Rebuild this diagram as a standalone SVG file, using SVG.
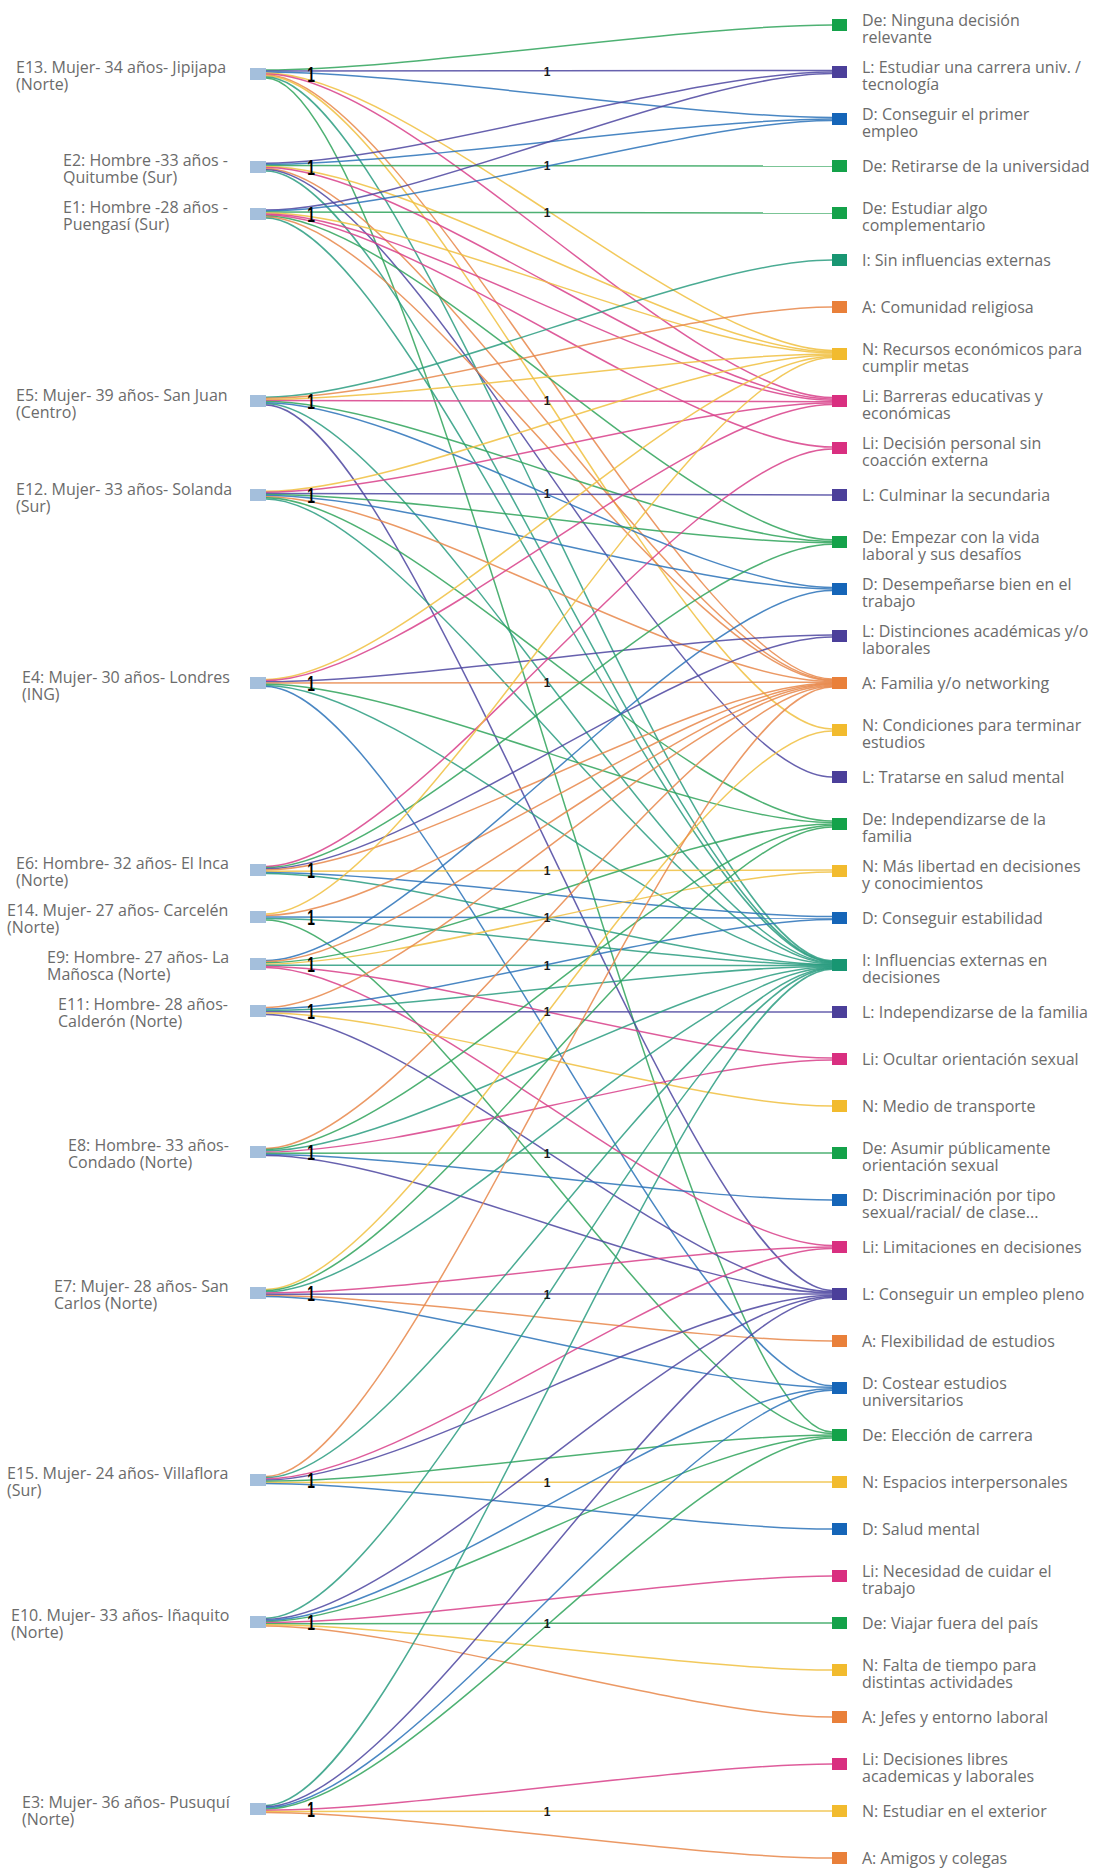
<svg xmlns="http://www.w3.org/2000/svg" width="1097" height="1868" viewBox="0 0 1097 1868">
<style>
text{font-family:"Open Sans","Noto Sans","Liberation Sans",sans-serif;font-size:16px;fill:#6b6b6b}
.src rect{fill:#a4bfdc}
.e{fill:none;stroke-width:1.5;stroke-opacity:.85}
.e.de{stroke:#2fa35a}.e.l{stroke:#4c45a0}.e.d{stroke:#2a72b8}.e.i{stroke:#2a9c80}.e.a{stroke:#e8874a}.e.n{stroke:#f0c040}.e.li{stroke:#d8408a}
.s.de{fill:#14a24a}.s.l{fill:#4b3f9a}.s.d{fill:#1565b8}.s.i{fill:#189672}.s.a{fill:#e9803a}.s.n{fill:#f2bb2e}.s.li{fill:#d92f80}
.k{font-family:"Liberation Sans",Arial,sans-serif;font-size:12px;font-weight:bold;fill:#1a1a1a;text-anchor:middle}
.m{font-family:"Liberation Sans",Arial,sans-serif;font-size:12px;font-weight:bold;fill:#000;text-anchor:middle}
</style>
<rect width="1097" height="1868" fill="#fff"/>
<g id="connectors">
<path class="e de" stroke-opacity=".45" d="M266 70C408 70 690 25 832 25"/>
<path class="e l" d="M266 71C408 71 690 70.5 832 70.5"/>
<path class="e d" d="M266 72C408 72 690 117.5 832 117.5"/>
<path class="e n" d="M266 73C408 73 690 350.4 832 350.4"/>
<path class="e li" d="M266 74C408 74 690 397.5 832 397.5"/>
<path class="e a" d="M266 75C408 75 690 679 832 679"/>
<path class="e n" d="M266 76C408 76 690 729 832 729"/>
<path class="e i" d="M266 77C408 77 690 960.8 832 960.8"/>
<path class="e de" d="M266 78C408 78 690 1432 832 1432"/>
<path class="e l" d="M266 163.2C408 163.2 690 72 832 72"/>
<path class="e d" d="M266 164.3C408 164.3 690 119 832 119"/>
<path class="e de" d="M266 165.4C408 165.4 690 166 832 166"/>
<path class="e n" d="M266 166.5C408 166.5 690 351.6 832 351.6"/>
<path class="e li" d="M266 167.6C408 167.6 690 398.9 832 398.9"/>
<path class="e a" d="M266 168.7C408 168.7 690 679.8 832 679.8"/>
<path class="e l" d="M266 169.8C408 169.8 690 777 832 777"/>
<path class="e i" d="M266 170.9C408 170.9 690 961.4 832 961.4"/>
<path class="e l" d="M266 210C408 210 690 73.5 832 73.5"/>
<path class="e d" d="M266 211C408 211 690 120.5 832 120.5"/>
<path class="e de" d="M266 212C408 212 690 213 832 213"/>
<path class="e n" d="M266 213C408 213 690 352.8 832 352.8"/>
<path class="e li" d="M266 214C408 214 690 400.3 832 400.3"/>
<path class="e li" d="M266 215C408 215 690 447 832 447"/>
<path class="e de" d="M266 216C408 216 690 539.8 832 539.8"/>
<path class="e a" d="M266 217C408 217 690 680.6 832 680.6"/>
<path class="e i" d="M266 218C408 218 690 962 832 962"/>
<path class="e i" d="M266 397.2C408 397.2 690 260 832 260"/>
<path class="e a" d="M266 398.3C408 398.3 690 307 832 307"/>
<path class="e n" d="M266 399.4C408 399.4 690 354 832 354"/>
<path class="e li" d="M266 400.5C408 400.5 690 401.7 832 401.7"/>
<path class="e de" d="M266 401.6C408 401.6 690 541.3 832 541.3"/>
<path class="e d" d="M266 402.7C408 402.7 690 587.5 832 587.5"/>
<path class="e i" d="M266 403.8C408 403.8 690 962.6 832 962.6"/>
<path class="e l" d="M266 404.9C408 404.9 690 1290.4 832 1290.4"/>
<path class="e n" d="M266 491.2C408 491.2 690 355.2 832 355.2"/>
<path class="e li" d="M266 492.3C408 492.3 690 403.1 832 403.1"/>
<path class="e l" d="M266 493.4C408 493.4 690 495 832 495"/>
<path class="e de" d="M266 494.5C408 494.5 690 542.8 832 542.8"/>
<path class="e d" d="M266 495.6C408 495.6 690 589 832 589"/>
<path class="e a" d="M266 496.7C408 496.7 690 681.4 832 681.4"/>
<path class="e de" d="M266 497.8C408 497.8 690 821 832 821"/>
<path class="e i" d="M266 498.9C408 498.9 690 963.2 832 963.2"/>
<path class="e n" d="M266 679.4C408 679.4 690 356.4 832 356.4"/>
<path class="e li" d="M266 680.6C408 680.6 690 404.5 832 404.5"/>
<path class="e l" d="M266 681.8C408 681.8 690 635 832 635"/>
<path class="e a" d="M266 683C408 683 690 682.2 832 682.2"/>
<path class="e de" d="M266 684.2C408 684.2 690 822.5 832 822.5"/>
<path class="e i" d="M266 685.4C408 685.4 690 963.8 832 963.8"/>
<path class="e d" d="M266 686.6C408 686.6 690 1385.8 832 1385.8"/>
<path class="e li" d="M266 866.4C408 866.4 690 449 832 449"/>
<path class="e de" d="M266 867.6C408 867.6 690 544.3 832 544.3"/>
<path class="e l" d="M266 868.8C408 868.8 690 637 832 637"/>
<path class="e a" d="M266 870C408 870 690 683 832 683"/>
<path class="e n" d="M266 871.2C408 871.2 690 870 832 870"/>
<path class="e d" d="M266 872.4C408 872.4 690 916.5 832 916.5"/>
<path class="e i" d="M266 873.6C408 873.6 690 964.4 832 964.4"/>
<path class="e n" d="M266 914C408 914 690 357.6 832 357.6"/>
<path class="e a" d="M266 915.5C408 915.5 690 683.8 832 683.8"/>
<path class="e d" d="M266 917C408 917 690 918 832 918"/>
<path class="e i" d="M266 918.5C408 918.5 690 965 832 965"/>
<path class="e de" d="M266 920C408 920 690 1433.5 832 1433.5"/>
<path class="e d" d="M266 960.4C408 960.4 690 590.5 832 590.5"/>
<path class="e a" d="M266 961.6C408 961.6 690 684.6 832 684.6"/>
<path class="e de" d="M266 962.8C408 962.8 690 824 832 824"/>
<path class="e n" d="M266 964C408 964 690 872 832 872"/>
<path class="e i" d="M266 965.2C408 965.2 690 965.6 832 965.6"/>
<path class="e li" d="M266 966.4C408 966.4 690 1058 832 1058"/>
<path class="e li" d="M266 967.6C408 967.6 690 1245.5 832 1245.5"/>
<path class="e a" d="M266 1007.5C408 1007.5 690 685.4 832 685.4"/>
<path class="e d" d="M266 1008.9C408 1008.9 690 919.5 832 919.5"/>
<path class="e i" d="M266 1010.3C408 1010.3 690 966.2 832 966.2"/>
<path class="e l" d="M266 1011.7C408 1011.7 690 1012 832 1012"/>
<path class="e n" d="M266 1013.1C408 1013.1 690 1106 832 1106"/>
<path class="e l" d="M266 1014.5C408 1014.5 690 1291.6 832 1291.6"/>
<path class="e a" d="M266 1148.4C408 1148.4 690 686.2 832 686.2"/>
<path class="e de" d="M266 1149.6C408 1149.6 690 825.5 832 825.5"/>
<path class="e i" d="M266 1150.8C408 1150.8 690 966.8 832 966.8"/>
<path class="e li" d="M266 1152C408 1152 690 1060 832 1060"/>
<path class="e de" d="M266 1153.2C408 1153.2 690 1153 832 1153"/>
<path class="e d" d="M266 1154.4C408 1154.4 690 1200 832 1200"/>
<path class="e l" d="M266 1155.6C408 1155.6 690 1292.8 832 1292.8"/>
<path class="e n" d="M266 1289.4C408 1289.4 690 731 832 731"/>
<path class="e de" d="M266 1290.6C408 1290.6 690 827 832 827"/>
<path class="e i" d="M266 1291.8C408 1291.8 690 967.4 832 967.4"/>
<path class="e li" d="M266 1293C408 1293 690 1247 832 1247"/>
<path class="e l" d="M266 1294.2C408 1294.2 690 1294 832 1294"/>
<path class="e a" d="M266 1295.4C408 1295.4 690 1341 832 1341"/>
<path class="e d" d="M266 1296.6C408 1296.6 690 1387.3 832 1387.3"/>
<path class="e a" d="M266 1476.4C408 1476.4 690 687 832 687"/>
<path class="e i" d="M266 1477.6C408 1477.6 690 968 832 968"/>
<path class="e li" d="M266 1478.8C408 1478.8 690 1248.5 832 1248.5"/>
<path class="e l" d="M266 1480C408 1480 690 1295.2 832 1295.2"/>
<path class="e de" d="M266 1481.2C408 1481.2 690 1435 832 1435"/>
<path class="e n" d="M266 1482.4C408 1482.4 690 1482 832 1482"/>
<path class="e d" d="M266 1483.6C408 1483.6 690 1529 832 1529"/>
<path class="e i" d="M266 1618.2C408 1618.2 690 968.6 832 968.6"/>
<path class="e l" d="M266 1619.3C408 1619.3 690 1296.4 832 1296.4"/>
<path class="e d" d="M266 1620.4C408 1620.4 690 1388.8 832 1388.8"/>
<path class="e de" d="M266 1621.5C408 1621.5 690 1436.5 832 1436.5"/>
<path class="e li" d="M266 1622.6C408 1622.6 690 1576 832 1576"/>
<path class="e de" d="M266 1623.7C408 1623.7 690 1623 832 1623"/>
<path class="e n" d="M266 1624.8C408 1624.8 690 1670 832 1670"/>
<path class="e a" d="M266 1625.9C408 1625.9 690 1717 832 1717"/>
<path class="e i" d="M266 1805.4C408 1805.4 690 969.2 832 969.2"/>
<path class="e l" d="M266 1806.6C408 1806.6 690 1297.6 832 1297.6"/>
<path class="e d" d="M266 1807.8C408 1807.8 690 1390.3 832 1390.3"/>
<path class="e de" d="M266 1809C408 1809 690 1438 832 1438"/>
<path class="e li" d="M266 1810.2C408 1810.2 690 1764 832 1764"/>
<path class="e n" d="M266 1811.4C408 1811.4 690 1811 832 1811"/>
<path class="e a" stroke-opacity=".45" d="M266 1812.6C408 1812.6 690 1858 832 1858"/>
<g id="edge-labels">
<text class="k" x="547" y="76">1</text><text class="k" x="547" y="170">1</text><text class="k" x="547" y="217">1</text>
<text class="k" x="547" y="405">1</text><text class="k" x="547" y="498">1</text><text class="k" x="547" y="687">1</text>
<text class="k" x="547" y="875">1</text><text class="k" x="547" y="922">1</text><text class="k" x="547" y="970">1</text>
<text class="k" x="547" y="1016">1</text><text class="k" x="547" y="1158">1</text><text class="k" x="547" y="1299">1</text>
<text class="k" x="547" y="1487">1</text><text class="k" x="547" y="1628">1</text><text class="k" x="547" y="1816">1</text>
</g>
<g id="start-marks">
<text class="m" transform="translate(311 74) scale(1.15 1.9)" y="4.3">1</text>
<text class="m" transform="translate(311 167) scale(1.15 1.9)" y="4.3">1</text>
<text class="m" transform="translate(311 214) scale(1.15 1.9)" y="4.3">1</text>
<text class="m" transform="translate(311 401) scale(1.15 1.9)" y="4.3">1</text>
<text class="m" transform="translate(311 495) scale(1.15 1.9)" y="4.3">1</text>
<text class="m" transform="translate(311 683) scale(1.15 1.9)" y="4.3">1</text>
<text class="m" transform="translate(311 870) scale(1.15 1.9)" y="4.3">1</text>
<text class="m" transform="translate(311 917) scale(1.15 1.9)" y="4.3">1</text>
<text class="m" transform="translate(311 964) scale(1.15 1.9)" y="4.3">1</text>
<text class="m" transform="translate(311 1011) scale(1.15 1.9)" y="4.3">1</text>
<text class="m" transform="translate(311 1152) scale(1.15 1.9)" y="4.3">1</text>
<text class="m" transform="translate(311 1293) scale(1.15 1.9)" y="4.3">1</text>
<text class="m" transform="translate(311 1480) scale(1.15 1.9)" y="4.3">1</text>
<text class="m" transform="translate(311 1622) scale(1.15 1.9)" y="4.3">1</text>
<text class="m" transform="translate(311 1809) scale(1.15 1.9)" y="4.3">1</text>
</g>
</g>
<g id="E13" class="src"><rect x="250" y="68" width="16" height="12"/><text x="16" y="73">E13. Mujer- 34 años- Jipijapa<tspan x="16" dy="16.5">(Norte)</tspan></text></g>
<g id="E2" class="src"><rect x="250" y="161" width="16" height="12"/><text x="63" y="166">E2: Hombre -33 años -<tspan x="63" dy="16.5">Quitumbe (Sur)</tspan></text></g>
<g id="E1" class="src"><rect x="250" y="208" width="16" height="12"/><text x="63" y="213">E1: Hombre -28 años -<tspan x="63" dy="16.5">Puengasí (Sur)</tspan></text></g>
<g id="E5" class="src"><rect x="250" y="395" width="16" height="12"/><text x="16" y="401">E5: Mujer- 39 años- San Juan<tspan x="16" dy="16.5">(Centro)</tspan></text></g>
<g id="E12" class="src"><rect x="250" y="489" width="16" height="12"/><text x="16" y="495">E12. Mujer- 33 años- Solanda<tspan x="16" dy="16.5">(Sur)</tspan></text></g>
<g id="E4" class="src"><rect x="250" y="677" width="16" height="12"/><text x="22" y="683">E4: Mujer- 30 años- Londres<tspan x="22" dy="16.5">(ING)</tspan></text></g>
<g id="E6" class="src"><rect x="250" y="864" width="16" height="12"/><text x="16" y="869">E6: Hombre- 32 años- El Inca<tspan x="16" dy="16.5">(Norte)</tspan></text></g>
<g id="E14" class="src"><rect x="250" y="911" width="16" height="12"/><text x="7" y="916">E14. Mujer- 27 años- Carcelén<tspan x="7" dy="16.5">(Norte)</tspan></text></g>
<g id="E9" class="src"><rect x="250" y="958" width="16" height="12"/><text x="47" y="963">E9: Hombre- 27 años- La<tspan x="47" dy="16.5">Mañosca (Norte)</tspan></text></g>
<g id="E11" class="src"><rect x="250" y="1005" width="16" height="12"/><text x="58" y="1010">E11: Hombre- 28 años-<tspan x="58" dy="16.5">Calderón (Norte)</tspan></text></g>
<g id="E8" class="src"><rect x="250" y="1146" width="16" height="12"/><text x="68" y="1151">E8: Hombre- 33 años-<tspan x="68" dy="16.5">Condado (Norte)</tspan></text></g>
<g id="E7" class="src"><rect x="250" y="1287" width="16" height="12"/><text x="54" y="1292">E7: Mujer- 28 años- San<tspan x="54" dy="16.5">Carlos (Norte)</tspan></text></g>
<g id="E15" class="src"><rect x="250" y="1474" width="16" height="12"/><text x="7" y="1479">E15. Mujer- 24 años- Villaflora<tspan x="7" dy="16.5">(Sur)</tspan></text></g>
<g id="E10" class="src"><rect x="250" y="1616" width="16" height="12"/><text x="11" y="1621">E10. Mujer- 33 años- Iñaquito<tspan x="11" dy="16.5">(Norte)</tspan></text></g>
<g id="E3" class="src"><rect x="250" y="1803" width="16" height="12"/><text x="22" y="1808">E3: Mujer- 36 años- Pusuquí<tspan x="22" dy="16.5">(Norte)</tspan></text></g>
<g id="t0"><rect class="s de" x="832" y="19" width="15" height="12"/><text x="862" y="26">De: Ninguna decisión<tspan x="862" dy="16.5">relevante</tspan></text></g>
<g id="t1"><rect class="s l" x="832" y="66" width="15" height="12"/><text x="862" y="73">L: Estudiar una carrera univ. /<tspan x="862" dy="16.5">tecnología</tspan></text></g>
<g id="t2"><rect class="s d" x="832" y="113" width="15" height="12"/><text x="862" y="120">D: Conseguir el primer<tspan x="862" dy="16.5">empleo</tspan></text></g>
<g id="t3"><rect class="s de" x="832" y="160" width="15" height="12"/><text x="862" y="172">De: Retirarse de la universidad</text></g>
<g id="t4"><rect class="s de" x="832" y="207" width="15" height="12"/><text x="862" y="214">De: Estudiar algo<tspan x="862" dy="16.5">complementario</tspan></text></g>
<g id="t5"><rect class="s i" x="832" y="254" width="15" height="12"/><text x="862" y="266">I: Sin influencias externas</text></g>
<g id="t6"><rect class="s a" x="832" y="301" width="15" height="12"/><text x="862" y="313">A: Comunidad religiosa</text></g>
<g id="t7"><rect class="s n" x="832" y="348" width="15" height="12"/><text x="862" y="355">N: Recursos económicos para<tspan x="862" dy="16.5">cumplir metas</tspan></text></g>
<g id="t8"><rect class="s li" x="832" y="395" width="15" height="12"/><text x="862" y="402">Li: Barreras educativas y<tspan x="862" dy="16.5">económicas</tspan></text></g>
<g id="t9"><rect class="s li" x="832" y="442" width="15" height="12"/><text x="862" y="449">Li: Decisión personal sin<tspan x="862" dy="16.5">coacción externa</tspan></text></g>
<g id="t10"><rect class="s l" x="832" y="489" width="15" height="12"/><text x="862" y="501">L: Culminar la secundaria</text></g>
<g id="t11"><rect class="s de" x="832" y="536" width="15" height="12"/><text x="862" y="543">De: Empezar con la vida<tspan x="862" dy="16.5">laboral y sus desafíos</tspan></text></g>
<g id="t12"><rect class="s d" x="832" y="583" width="15" height="12"/><text x="862" y="590">D: Desempeñarse bien en el<tspan x="862" dy="16.5">trabajo</tspan></text></g>
<g id="t13"><rect class="s l" x="832" y="630" width="15" height="12"/><text x="862" y="637">L: Distinciones académicas y/o<tspan x="862" dy="16.5">laborales</tspan></text></g>
<g id="t14"><rect class="s a" x="832" y="677" width="15" height="12"/><text x="862" y="689">A: Familia y/o networking</text></g>
<g id="t15"><rect class="s n" x="832" y="724" width="15" height="12"/><text x="862" y="731">N: Condiciones para terminar<tspan x="862" dy="16.5">estudios</tspan></text></g>
<g id="t16"><rect class="s l" x="832" y="771" width="15" height="12"/><text x="862" y="783">L: Tratarse en salud mental</text></g>
<g id="t17"><rect class="s de" x="832" y="818" width="15" height="12"/><text x="862" y="825">De: Independizarse de la<tspan x="862" dy="16.5">familia</tspan></text></g>
<g id="t18"><rect class="s n" x="832" y="865" width="15" height="12"/><text x="862" y="872">N: Más libertad en decisiones<tspan x="862" dy="16.5">y conocimientos</tspan></text></g>
<g id="t19"><rect class="s d" x="832" y="912" width="15" height="12"/><text x="862" y="924">D: Conseguir estabilidad</text></g>
<g id="t20"><rect class="s i" x="832" y="959" width="15" height="12"/><text x="862" y="966">I: Influencias externas en<tspan x="862" dy="16.5">decisiones</tspan></text></g>
<g id="t21"><rect class="s l" x="832" y="1006" width="15" height="12"/><text x="862" y="1018">L: Independizarse de la familia</text></g>
<g id="t22"><rect class="s li" x="832" y="1053" width="15" height="12"/><text x="862" y="1065">Li: Ocultar orientación sexual</text></g>
<g id="t23"><rect class="s n" x="832" y="1100" width="15" height="12"/><text x="862" y="1112">N: Medio de transporte</text></g>
<g id="t24"><rect class="s de" x="832" y="1147" width="15" height="12"/><text x="862" y="1154">De: Asumir públicamente<tspan x="862" dy="16.5">orientación sexual</tspan></text></g>
<g id="t25"><rect class="s d" x="832" y="1194" width="15" height="12"/><text x="862" y="1201">D: Discriminación por tipo<tspan x="862" dy="16.5">sexual/racial/ de clase...</tspan></text></g>
<g id="t26"><rect class="s li" x="832" y="1241" width="15" height="12"/><text x="862" y="1253">Li: Limitaciones en decisiones</text></g>
<g id="t27"><rect class="s l" x="832" y="1288" width="15" height="12"/><text x="862" y="1300">L: Conseguir un empleo pleno</text></g>
<g id="t28"><rect class="s a" x="832" y="1335" width="15" height="12"/><text x="862" y="1347">A: Flexibilidad de estudios</text></g>
<g id="t29"><rect class="s d" x="832" y="1382" width="15" height="12"/><text x="862" y="1389">D: Costear estudios<tspan x="862" dy="16.5">universitarios</tspan></text></g>
<g id="t30"><rect class="s de" x="832" y="1429" width="15" height="12"/><text x="862" y="1441">De: Elección de carrera</text></g>
<g id="t31"><rect class="s n" x="832" y="1476" width="15" height="12"/><text x="862" y="1488">N: Espacios interpersonales</text></g>
<g id="t32"><rect class="s d" x="832" y="1523" width="15" height="12"/><text x="862" y="1535">D: Salud mental</text></g>
<g id="t33"><rect class="s li" x="832" y="1570" width="15" height="12"/><text x="862" y="1577">Li: Necesidad de cuidar el<tspan x="862" dy="16.5">trabajo</tspan></text></g>
<g id="t34"><rect class="s de" x="832" y="1617" width="15" height="12"/><text x="862" y="1629">De: Viajar fuera del país</text></g>
<g id="t35"><rect class="s n" x="832" y="1664" width="15" height="12"/><text x="862" y="1671">N: Falta de tiempo para<tspan x="862" dy="16.5">distintas actividades</tspan></text></g>
<g id="t36"><rect class="s a" x="832" y="1711" width="15" height="12"/><text x="862" y="1723">A: Jefes y entorno laboral</text></g>
<g id="t37"><rect class="s li" x="832" y="1758" width="15" height="12"/><text x="862" y="1765">Li: Decisiones libres<tspan x="862" dy="16.5">academicas y laborales</tspan></text></g>
<g id="t38"><rect class="s n" x="832" y="1805" width="15" height="12"/><text x="862" y="1817">N: Estudiar en el exterior</text></g>
<g id="t39"><rect class="s a" x="832" y="1852" width="15" height="12"/><text x="862" y="1864">A: Amigos y colegas</text></g>
</svg>
